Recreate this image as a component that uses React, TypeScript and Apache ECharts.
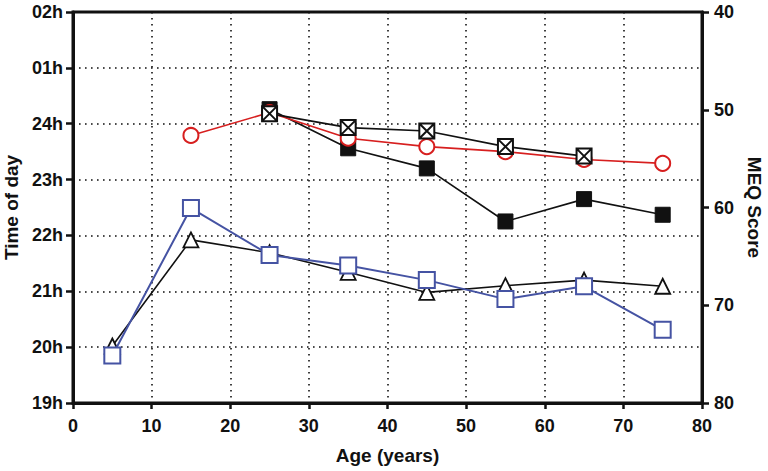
import React, { useEffect, useRef } from "react";
import * as echarts from "echarts";

const ages = [5, 15, 25, 35, 45, 55, 65, 75];
const redCircle = [null, 23.79, 24.2, 23.74, 23.59, 23.5, 23.36, 23.29];
const filledSquare = [null, null, 24.26, 23.56, 23.2, 22.25, 22.65, 22.37];
const crossedSquare = [null, null, 24.18, 23.93, 23.87, 23.59, 23.42, null];
const triangle = [20.02, 21.92, 21.69, 21.34, 20.98, 21.1, 21.2, 21.09];
const blueSquare = [19.85, 22.49, 21.65, 21.46, 21.2, 20.86, 21.09, 20.31];

const pairs = (vals: (number | null)[]) =>
  ages.map((a, i) => [a, vals[i]]).filter((p) => p[1] !== null);

const FONT = "Liberation Sans";
const crossPath = "path://M0,0H10V10H0Z M0,0L10,10 M10,0L0,10";

export default function App() {
  const ref = useRef<HTMLDivElement>(null);
  useEffect(() => {
    const chart = echarts.init(ref.current!, null, { renderer: "svg" });
    const axisLabel = { color: "#111", fontFamily: FONT, fontWeight: "bold", fontSize: 18 };
    const nameStyle = { color: "#111", fontFamily: FONT, fontWeight: "bold", fontSize: 19 };
    const dotted = { show: true, lineStyle: { color: "#111", width: 1.6, type: [1.6, 4.4] } };
    chart.setOption({
      animation: false,
      backgroundColor: "#fff",
      grid: {
        left: 73, right: 66, top: 12, bottom: 68,
        outerBoundsMode: "none", containLabel: false,
        show: true, borderColor: "#111", borderWidth: 3, backgroundColor: "transparent",
      },
      xAxis: {
        type: "value", min: 0, max: 80, interval: 10,
        name: "Age (years)", nameLocation: "middle", nameGap: 43, nameTextStyle: nameStyle,
        axisLine: { show: true, lineStyle: { color: "#111", width: 3 } },
        axisTick: { show: true, length: 6, lineStyle: { color: "#111", width: 2.5 } },
        axisLabel: { ...axisLabel, margin: 14 },
        splitLine: dotted,
      },
      yAxis: [
        {
          type: "value", min: 19, max: 26, interval: 1,
          name: "Time of day", nameLocation: "middle", nameGap: 50, nameRotate: 90,
          nameTextStyle: nameStyle,
          axisLine: { show: true, lineStyle: { color: "#111", width: 3 } },
          axisTick: { show: true, length: 7, lineStyle: { color: "#111", width: 2.5 } },
          axisLabel: {
            ...axisLabel, margin: 10,
            formatter: (v: number) => (v <= 24 ? v + "h" : "0" + (v - 24) + "h"),
          },
          splitLine: dotted,
        },
        {
          type: "value", min: 40, max: 80, interval: 10, inverse: true, position: "right",
          name: "MEQ Score", nameLocation: "middle", nameGap: 40, nameRotate: -90,
          nameTextStyle: nameStyle,
          axisLine: { show: true, lineStyle: { color: "#111", width: 3 } },
          axisTick: { show: true, length: 7, lineStyle: { color: "#111", width: 2.5 } },
          axisLabel: { ...axisLabel, margin: 12 },
          splitLine: { show: false },
        },
      ],
      series: [
        {
          type: "line", data: pairs(filledSquare), symbol: "rect", symbolSize: 15,
          lineStyle: { color: "#111", width: 1.6 },
          itemStyle: { color: "#111", borderColor: "#111", borderWidth: 1 },
          z: 2,
        },
        {
          type: "line", data: pairs(redCircle), symbol: "circle", symbolSize: 15,
          lineStyle: { color: "#d71f1f", width: 1.6 },
          itemStyle: { color: "#fff", borderColor: "#d71f1f", borderWidth: 2 },
          z: 3,
        },
        {
          type: "line", data: pairs(crossedSquare), symbol: crossPath, symbolSize: 15,
          lineStyle: { color: "#111", width: 1.6 },
          itemStyle: { color: "#fff", borderColor: "#111", borderWidth: 2 },
          z: 4,
        },
        {
          type: "line", data: pairs(triangle), symbol: "triangle", symbolSize: 15,
          lineStyle: { color: "#111", width: 1.6 },
          itemStyle: { color: "#fff", borderColor: "#111", borderWidth: 1.8 },
          z: 5,
        },
        {
          type: "line", data: pairs(blueSquare), symbol: "rect", symbolSize: 16,
          lineStyle: { color: "#4553a3", width: 2 },
          itemStyle: { color: "#fff", borderColor: "#4553a3", borderWidth: 2 },
          z: 6,
        },
      ],
    });
    return () => chart.dispose();
  }, []);
  return (
    <div
      ref={ref}
      style={{ position: "absolute", left: 0, top: 0, width: 768, height: 471 }}
    />
  );
}
